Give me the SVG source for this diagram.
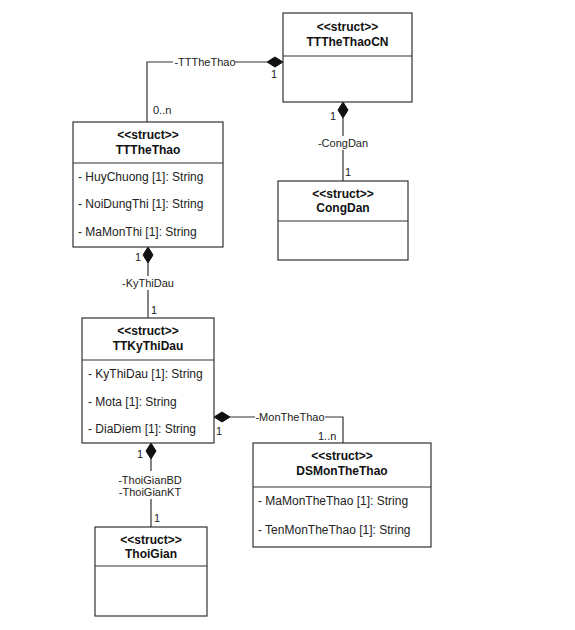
<svg xmlns="http://www.w3.org/2000/svg" width="575" height="630" viewBox="0 0 575 630">
<style>
.box{fill:#fff;stroke:#333;stroke-width:1.2}
.ln{fill:none;stroke:#333;stroke-width:1.2}
.hd{font-family:"Liberation Sans",Arial,sans-serif;font-size:12px;font-weight:bold;text-anchor:middle;fill:#111}
.at{font-family:"Liberation Sans",Arial,sans-serif;font-size:12px;fill:#222}
.lb{font-family:"Liberation Sans",Arial,sans-serif;font-size:11px;fill:#222}
.mid{text-anchor:middle}
.bg{fill:#fff}
.dm{fill:#111;stroke:#111;stroke-width:1}
</style>
<rect width="575" height="630" fill="#fff"/>
<g id="connectors">
  <polyline class="ln" points="147,122 147,62 267,62"/>
  <polygon class="dm" points="283,62 275,57 267,62 275,67"/>
  <rect class="bg" x="173" y="55" width="62" height="14"/>
  <text class="lb mid" x="205" y="66">-TTTheThao</text>
  <text class="lb" x="153" y="114">0..n</text>
  <text class="lb" x="271" y="78">1</text>

  <line class="ln" x1="343" y1="118" x2="343" y2="181"/>
  <polygon class="dm" points="343,102 338,110 343,118 348,110"/>
  <rect class="bg" x="316" y="136" width="55" height="14"/>
  <text class="lb mid" x="343" y="147">-CongDan</text>
  <text class="lb" x="330" y="120">1</text>
  <text class="lb" x="345" y="176">1</text>

  <line class="ln" x1="148" y1="263" x2="148" y2="318"/>
  <polygon class="dm" points="148,247 143,255 148,263 153,255"/>
  <rect class="bg" x="120" y="276" width="56" height="14"/>
  <text class="lb mid" x="148" y="287">-KyThiDau</text>
  <text class="lb" x="135" y="261">1</text>
  <text class="lb" x="151" y="314">1</text>

  <polyline class="ln" points="230,417 343,417 343,443"/>
  <polygon class="dm" points="214,417 222,412 230,417 222,422"/>
  <rect class="bg" x="255" y="410" width="70" height="14"/>
  <text class="lb mid" x="290" y="421">-MonTheThao</text>
  <text class="lb" x="216" y="435">1</text>
  <text class="lb" x="318" y="440">1..n</text>

  <line class="ln" x1="151" y1="459" x2="151" y2="527"/>
  <polygon class="dm" points="151,443 146,451 151,459 156,451"/>
  <rect class="bg" x="115" y="471" width="70" height="28"/>
  <text class="lb mid" x="150" y="484">-ThoiGianBD</text>
  <text class="lb mid" x="150" y="496">-ThoiGianKT</text>
  <text class="lb" x="137" y="458">1</text>
  <text class="lb" x="154" y="522">1</text>
</g>
<g id="TTTheThaoCN">
  <rect class="box" x="283" y="13" width="129" height="89"/>
  <line class="ln" x1="283" y1="56" x2="412" y2="56"/>
  <text class="hd" x="347.5" y="31">&lt;&lt;struct&gt;&gt;</text>
  <text class="hd" x="347.5" y="46">TTTheThaoCN</text>
</g>
<g id="TTTheThao">
  <rect class="box" x="73" y="122" width="150" height="125"/>
  <line class="ln" x1="73" y1="163" x2="223" y2="163"/>
  <text class="hd" x="148" y="139">&lt;&lt;struct&gt;&gt;</text>
  <text class="hd" x="148" y="154">TTTheThao</text>
  <text class="at" x="78" y="181">- HuyChuong [1]: String</text>
  <text class="at" x="78" y="208">- NoiDungThi [1]: String</text>
  <text class="at" x="78" y="236">- MaMonThi [1]: String</text>
</g>
<g id="CongDan">
  <rect class="box" x="278" y="181" width="130" height="79"/>
  <line class="ln" x1="278" y1="221" x2="408" y2="221"/>
  <text class="hd" x="343" y="198">&lt;&lt;struct&gt;&gt;</text>
  <text class="hd" x="343" y="212">CongDan</text>
</g>
<g id="TTKyThiDau">
  <rect class="box" x="82" y="318" width="132" height="125"/>
  <line class="ln" x1="82" y1="360" x2="214" y2="360"/>
  <text class="hd" x="148" y="335">&lt;&lt;struct&gt;&gt;</text>
  <text class="hd" x="148" y="350">TTKyThiDau</text>
  <text class="at" x="88" y="378">- KyThiDau [1]: String</text>
  <text class="at" x="88" y="406">- Mota [1]: String</text>
  <text class="at" x="88" y="433">- DiaDiem [1]: String</text>
</g>
<g id="DSMonTheThao">
  <rect class="box" x="253" y="443" width="178" height="104"/>
  <line class="ln" x1="253" y1="487" x2="431" y2="487"/>
  <text class="hd" x="342" y="460">&lt;&lt;struct&gt;&gt;</text>
  <text class="hd" x="342" y="475">DSMonTheThao</text>
  <text class="at" x="258" y="505">- MaMonTheThao [1]: String</text>
  <text class="at" x="258" y="534">- TenMonTheThao [1]: String</text>
</g>
<g id="ThoiGian">
  <rect class="box" x="95" y="527" width="112" height="89"/>
  <line class="ln" x1="95" y1="566" x2="207" y2="566"/>
  <text class="hd" x="151" y="544">&lt;&lt;struct&gt;&gt;</text>
  <text class="hd" x="151" y="558">ThoiGian</text>
</g>
</svg>
